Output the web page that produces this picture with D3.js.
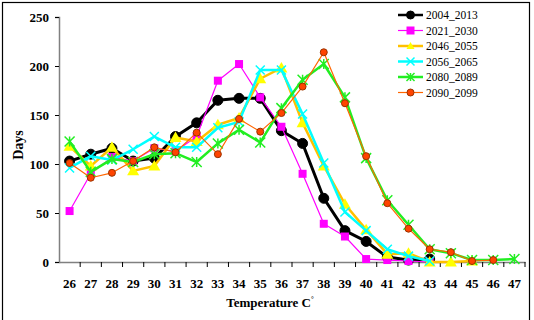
<!DOCTYPE html>
<html>
<head>
<meta charset="utf-8">
<script src="https://cdn.jsdelivr.net/npm/d3@7"></script>
<style>
  body { margin: 0; background: #fff; }
  text { font-family: "Liberation Serif", "Times New Roman", serif; }
</style>
</head>
<body>
<div id="chart"></div>
<script>
// temperature categories (deg C)
const temps = [26, 27, 28, 29, 30, 31, 32, 33, 34, 35, 36, 37, 38, 39, 40, 41, 42, 43, 44, 45, 46, 47];
const yTicks = [0, 50, 100, 150, 200, 250];

// days per temperature, one array per period (starting at 26)
const s2004_2013 = [103, 110, 116, 103, 106, 128, 142, 165, 167, 167, 134, 121, 65, 32, 21, 5, 2, 3];
const s2021_2030 = [52, 90, 107, 103, 116, 113, 128, 185, 202, 168, 138, 90, 39, 26, 3, 2, 1, 0];
const s2046_2055 = [118, 98, 117, 93, 98, 127, 123, 140, 147, 187, 198, 142, 98, 59, 33, 8, 9, 0, 0, 1];
const s2056_2065 = [96, 108, 104, 115, 128, 117, 117, 137, 143, 196, 196, 151, 101, 51, 32, 13, 6, 1];
const s2080_2089 = [123, 92, 105, 102, 110, 111, 102, 121, 135, 122, 157, 186, 202, 168, 106, 63, 38, 13, 9, 2, 2, 3];
const s2090_2099 = [101, 86, 91, 103, 117, 112, 132, 110, 146, 133, 152, 179, 214, 162, 108, 60, 34, 13, 10, 1, 2];

const seriesNames = ["2004_2013", "2021_2030", "2046_2055", "2056_2065", "2080_2089", "2090_2099"];
const seriesValues = [s2004_2013, s2021_2030, s2046_2055, s2056_2065, s2080_2089, s2090_2099];

const styles = [
  { line: "#000000", width: 3, marker: "circle", fill: "#000000", stroke: "#000000", size: 5 },
  { line: "#ff00ff", width: 1.2, marker: "square", fill: "#ff00ff", stroke: "#ff00ff", size: 4 },
  { line: "#ffc000", width: 2.5, marker: "triangle", fill: "#ffff00", stroke: "#ffff00", size: 6 },
  { line: "#00ffff", width: 2.5, marker: "cross", fill: "none", stroke: "#00ffff", size: 4.5 },
  { line: "#22ee22", width: 2.5, marker: "star", fill: "none", stroke: "#22ee22", size: 5 },
  { line: "#ff6600", width: 1.2, marker: "circle", fill: "#ff4400", stroke: "#993300", size: 3.5 }
];

const W = 534, H = 320;
const margin = { top: 17, right: 9, bottom: 58, left: 59 };
const width = 525 - margin.left;
const height = 262 - margin.top;

const svg = d3.select("#chart").append("svg")
  .attr("width", W)
  .attr("height", H);

// outer frame
svg.append("rect")
  .attr("x", 2.5).attr("y", 2.5)
  .attr("width", 527).attr("height", 330)
  .attr("fill", "none").attr("stroke", "#000").attr("stroke-width", 1.2);

const g = svg.append("g").attr("transform", `translate(${margin.left},${margin.top})`);

const x = d3.scaleBand().domain(temps).range([0, width]);
const y = d3.scaleLinear().domain([0, 250]).range([height, 0]);

// y axis
const yAxis = g.append("g")
  .call(d3.axisLeft(y).tickValues(yTicks).tickSize(4).tickPadding(6));
yAxis.selectAll("text").attr("font-size", 13).attr("font-weight", "bold").attr("fill", "#000")
  .style("font-family", "Liberation Serif, serif");

// x axis: labels centered, ticks on category boundaries
const xAxis = g.append("g").attr("transform", `translate(0,${height})`)
  .call(d3.axisBottom(x).tickSize(0).tickPadding(17));
xAxis.selectAll("text").attr("font-size", 13).attr("font-weight", "bold").attr("fill", "#000")
  .style("font-family", "Liberation Serif, serif");
xAxis.selectAll(".bnd").data(temps)
  .enter().append("line")
  .attr("class", "bnd")
  .attr("x1", d => x(d) + x.bandwidth())
  .attr("x2", d => x(d) + x.bandwidth())
  .attr("y1", 0).attr("y2", 5)
  .attr("stroke", "#000");

[yAxis, xAxis].forEach(a => {
  a.select(".domain").attr("stroke", "#808080").attr("stroke-width", 1.5);
  a.selectAll(".tick line").attr("stroke", "#000");
});

// axis titles
svg.append("text")
  .attr("x", 270).attr("y", 307)
  .attr("text-anchor", "middle")
  .attr("font-size", 13).attr("font-weight", "bold")
  .text("Temperature C")
  .append("tspan").attr("dy", -6).attr("font-size", 7).text("°");

svg.append("text")
  .attr("transform", "translate(23,145) rotate(-90)")
  .attr("text-anchor", "middle")
  .attr("font-size", 14).attr("font-weight", "bold")
  .text("Days");

function drawMarker(sel, st) {
  const s = st.size;
  if (st.marker === "circle") {
    sel.append("circle").attr("r", s).attr("fill", st.fill).attr("stroke", st.stroke).attr("stroke-width", 1);
  } else if (st.marker === "square") {
    sel.append("rect").attr("x", -s).attr("y", -s).attr("width", 2 * s).attr("height", 2 * s).attr("fill", st.fill);
  } else if (st.marker === "triangle") {
    sel.append("path").attr("d", `M0,${-s}L${s},${s * 0.75}L${-s},${s * 0.75}Z`).attr("fill", st.fill);
  } else if (st.marker === "cross") {
    sel.append("path").attr("d", `M${-s},${-s}L${s},${s}M${-s},${s}L${s},${-s}`)
      .attr("stroke", st.stroke).attr("stroke-width", 1.5);
  } else if (st.marker === "star") {
    sel.append("path").attr("d", `M${-s},${-s}L${s},${s}M${-s},${s}L${s},${-s}M0,${-s}L0,${s}`)
      .attr("stroke", st.stroke).attr("stroke-width", 1.5);
  }
}

const line = d3.line()
  .x((d, i) => x(temps[i]) + x.bandwidth() / 2)
  .y(d => y(d));

seriesValues.forEach((vals, k) => {
  const st = styles[k];
  const sg = g.append("g");
  sg.append("path")
    .attr("d", line(vals))
    .attr("fill", "none")
    .attr("stroke", st.line)
    .attr("stroke-width", st.width)
    .attr("stroke-linejoin", "round");
  vals.forEach((v, i) => {
    const m = sg.append("g")
      .attr("transform", `translate(${x(temps[i]) + x.bandwidth() / 2},${y(v)})`);
    drawMarker(m, st);
  });
});

// legend
const legend = svg.append("g").attr("transform", "translate(398,15)");
seriesNames.forEach((name, k) => {
  const st = styles[k];
  const row = legend.append("g").attr("transform", `translate(0,${k * 15.5})`);
  row.append("line").attr("x1", 0).attr("x2", 25).attr("y1", 0).attr("y2", 0)
    .attr("stroke", st.line).attr("stroke-width", Math.min(st.width, 2.5));
  const m = row.append("g").attr("transform", "translate(12.5,0)");
  drawMarker(m, Object.assign({}, st, { size: Math.min(st.size, 4) }));
  row.append("text").attr("x", 28).attr("y", 4)
    .attr("font-size", 11.5)
    .text(name);
});
</script>
</body>
</html>
